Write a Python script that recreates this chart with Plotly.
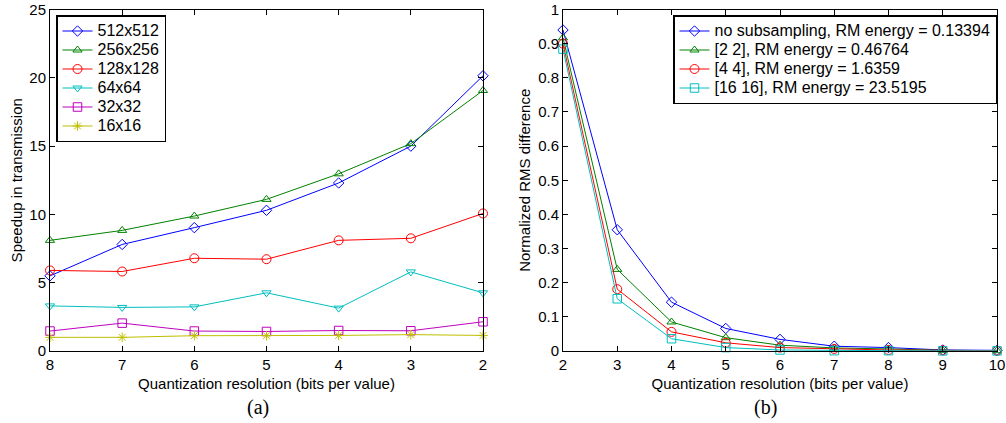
import plotly.graph_objects as go
from plotly.subplots import make_subplots

# ---- data: panel (a) ----
bits_a = [8, 7, 6, 5, 4, 3, 2]
sizes = ["512x512", "256x256", "128x128", "64x64", "32x32", "16x16"]
speed_512 = [5.5, 7.8, 9.03, 10.3, 12.3, 15.0, 20.15]
speed_256 = [8.1, 8.83, 9.88, 11.1, 12.97, 15.18, 19.07]
speed_128 = [5.9, 5.82, 6.79, 6.72, 8.1, 8.25, 10.07]
speed_64 = [3.3, 3.19, 3.23, 4.26, 3.14, 5.79, 4.26]
speed_32 = [1.46, 2.04, 1.46, 1.43, 1.5, 1.48, 2.14]
speed_16 = [1.0, 1.0, 1.12, 1.12, 1.14, 1.2, 1.14]

# ---- data: panel (b) ----
bits_b = [2, 3, 4, 5, 6, 7, 8, 9, 10]
labels_b = ["no subsampling, RM energy = 0.13394",
            "[2 2], RM energy = 0.46764",
            "[4 4], RM energy = 1.6359",
            "[16 16], RM energy = 23.5195"]
rms_none = [0.94, 0.355, 0.143, 0.066, 0.034, 0.014, 0.01, 0.003, 0.002]
rms_22 = [0.917, 0.239, 0.085, 0.039, 0.017, 0.009, 0.006, 0.002, 0.001]
rms_44 = [0.9, 0.181, 0.056, 0.024, 0.01, 0.006, 0.003, 0.002, 0.001]
rms_1616 = [0.884, 0.153, 0.036, 0.01, 0.003, 0.001, 0.001, 0.0005, 0.0003]

colors_a = ["#0000ff", "#008000", "#ff0000", "#00bfbf", "#bf00bf", "#bfbf00"]
symbols_a = ["diamond-open", "triangle-up-open", "circle-open",
             "triangle-down-open", "square-open", "asterisk-open"]
msize_a = [8, 8, 9, 8, 8.5, 8]
colors_b = ["#0000ff", "#008000", "#ff0000", "#00bfbf"]
symbols_b = ["diamond-open", "triangle-up-open", "circle-open", "square-open"]
msize_b = [8, 8, 9, 8.5]

FONT = "Liberation Sans, Arial, sans-serif"
SERIF = "Liberation Serif, Times New Roman, serif"

W, H = 1006, 423


def big(t):
    # legend rows are sized from the (small) legend font; text itself drawn at 16px
    return '<span style="font-size:16px">' + t + '</span>'


fig = make_subplots(rows=1, cols=2)

series_a = [speed_512, speed_256, speed_128, speed_64, speed_32, speed_16]
for name, ys, c, s, ms in zip(sizes, series_a, colors_a, symbols_a, msize_a):
    fig.add_trace(go.Scatter(
        x=bits_a, y=ys, name=big(name), mode="lines+markers",
        line=dict(color=c, width=1),
        marker=dict(symbol=s, size=ms, color=c, line=dict(color=c, width=1)),
        cliponaxis=False, legend="legend"), row=1, col=1)

series_b = [rms_none, rms_22, rms_44, rms_1616]
for name, ys, c, s, ms in zip(labels_b, series_b, colors_b, symbols_b, msize_b):
    fig.add_trace(go.Scatter(
        x=bits_b, y=ys, name=big(name), mode="lines+markers",
        line=dict(color=c, width=1),
        marker=dict(symbol=s, size=ms, color=c, line=dict(color=c, width=1)),
        cliponaxis=False, legend="legend2"), row=1, col=2)

axis_common = dict(showline=True, linecolor="black", linewidth=1, mirror="ticks",
                   ticks="inside", ticklen=5, tickcolor="black", showgrid=False,
                   zeroline=False, automargin=False, ticklabeloverflow="allow",
                   tickfont=dict(family=FONT, size=15, color="black"))

fig.update_xaxes(**axis_common)
fig.update_yaxes(**axis_common)

ydom = [1 - 351 / H, 1 - 9.5 / H]

fig.update_layout(
    width=W, height=H,
    margin=dict(l=0, r=0, t=0, b=0),
    paper_bgcolor="white", plot_bgcolor="white",
    font=dict(family=FONT, size=15, color="black"),
    xaxis=dict(domain=[50 / W, 483 / W], range=[8, 2], tickmode="array",
               tickvals=bits_a, ticktext=[str(b) for b in bits_a],
               title=dict(text="Quantization resolution (bits per value)",
                          font=dict(size=15), standoff=6)),
    yaxis=dict(domain=ydom, range=[0, 25], dtick=5,
               title=dict(text="Speedup in transmission", font=dict(size=15), standoff=3)),
    xaxis2=dict(domain=[563 / W, 997 / W], range=[2, 10], dtick=1,
                title=dict(text="Quantization resolution (bits per value)",
                           font=dict(size=15), standoff=6)),
    yaxis2=dict(domain=ydom, range=[0, 1],
                tickvals=[0, 0.1, 0.2, 0.3, 0.4, 0.5, 0.6, 0.7, 0.8, 0.9, 1],
                ticktext=["0", "0.1", "0.2", "0.3", "0.4", "0.5", "0.6", "0.7", "0.8", "0.9", "1"],
                title=dict(text="Normalized RMS difference", font=dict(size=15), standoff=3)),
    legend=dict(x=56 / W, y=1 - 15 / H, xanchor="left", yanchor="top",
                bordercolor="black", borderwidth=1.5, bgcolor="white",
                font=dict(family=FONT, size=12), tracegroupgap=0),
    legend2=dict(x=997 / W, y=1 - 15 / H, xanchor="right", yanchor="top",
                 bordercolor="black", borderwidth=1.5, bgcolor="white",
                 font=dict(family=FONT, size=12), tracegroupgap=0),
    annotations=[
        dict(text="(a)", x=258 / W, y=1 - 407 / H, xref="paper", yref="paper",
             xanchor="center", yanchor="middle",
             showarrow=False, font=dict(family=SERIF, size=20)),
        dict(text="(b)", x=765 / W, y=1 - 407 / H, xref="paper", yref="paper",
             xanchor="center", yanchor="middle",
             showarrow=False, font=dict(family=SERIF, size=20)),
    ],
)

fig.write_html("out.html", config={"displayModeBar": False},
               post_script="document.body.style.margin='0px';")
